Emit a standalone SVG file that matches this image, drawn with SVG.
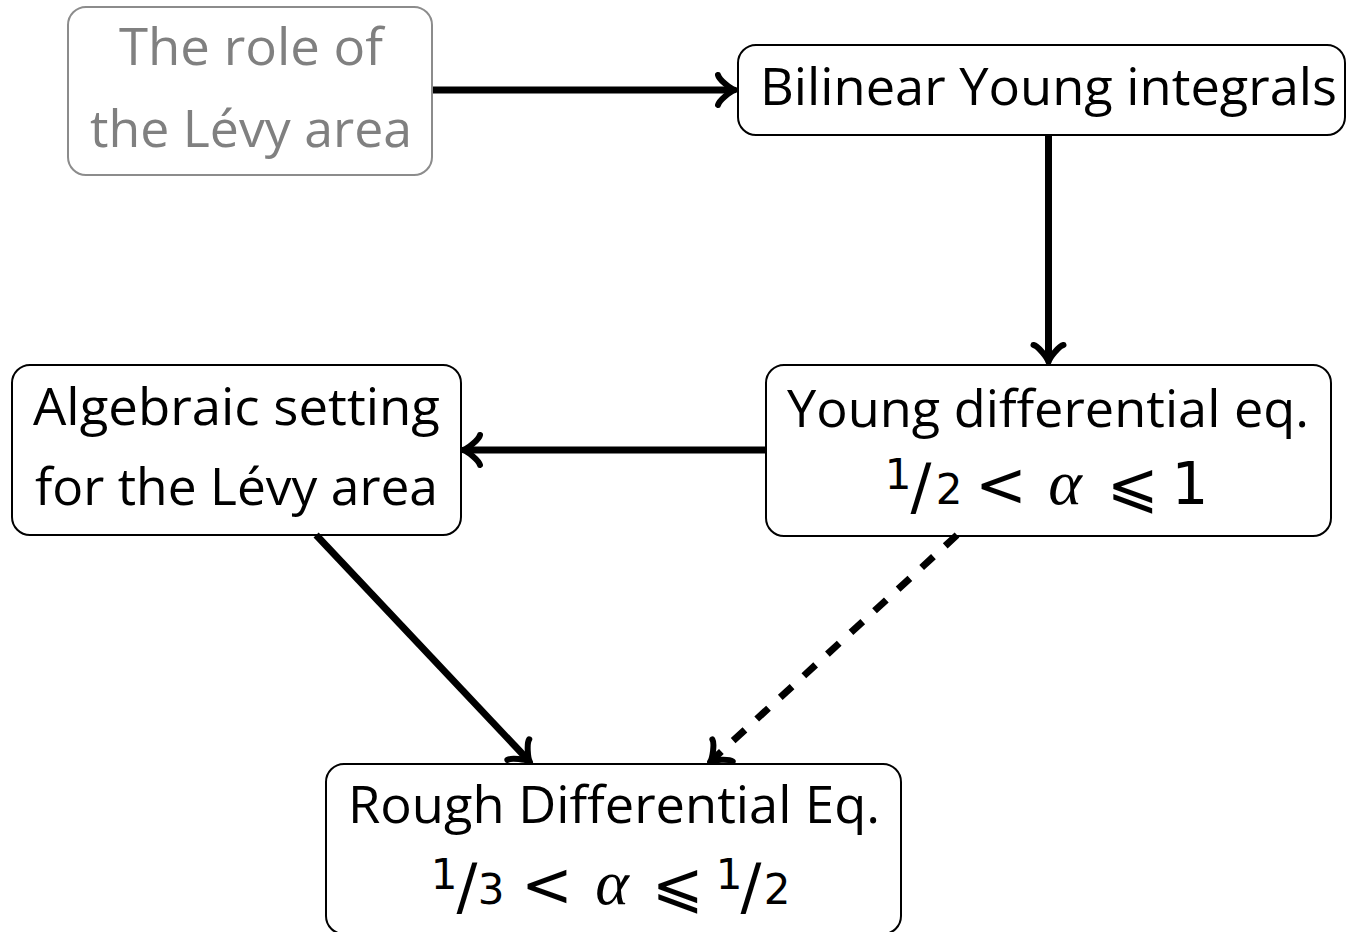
<svg xmlns="http://www.w3.org/2000/svg" width="1348" height="932" viewBox="0 0 1348 932">
<style>
.box{fill:#fff;stroke:#000;stroke-width:2}
.gbox{fill:#fff;stroke:#8c8c8c;stroke-width:2}
.t{font-family:"Open Sans","Noto Sans",sans-serif;font-size:52px;fill:#000;text-anchor:middle}
.g{fill:#808080}
.m{font-family:"DejaVu Sans",sans-serif;font-size:58px;fill:#000;text-anchor:middle}
.ms{font-size:42px}
.sl{font-size:62px}
.mr{font-size:62px}
.ma{font-family:"Liberation Serif","DejaVu Serif",serif;font-style:italic;font-size:64px}
.edge{fill:none;stroke:#000;stroke-width:7}
.dash{stroke-dasharray:16 16}
</style>
<defs>
<marker id="arr" markerUnits="userSpaceOnUse" markerWidth="40" markerHeight="40" viewBox="-20 -20 40 40" refX="0" refY="0" orient="auto" overflow="visible">
<path d="M-15,-15 C-14,-10.5 -2.5,-1 2,0 C-2.5,1 -14,10.5 -15,15" fill="none" stroke="#000" stroke-width="6" stroke-linecap="round" stroke-linejoin="round" stroke-dasharray="none"/>
</marker>
</defs>

<g id="node-role">
<rect class="gbox" x="68" y="7" width="364" height="168" rx="18"/>
<text class="t g" x="251" y="65" textLength="264" lengthAdjust="spacingAndGlyphs">The role of</text>
<text class="t g" x="251" y="147" textLength="322" lengthAdjust="spacingAndGlyphs">the Lévy area</text>
</g>

<g id="node-bilinear">
<rect class="box" x="738" y="45" width="607" height="90" rx="18"/>
<text class="t" x="1048.5" y="105" textLength="577" lengthAdjust="spacingAndGlyphs">Bilinear Young integrals</text>
</g>

<g id="node-young">
<rect class="box" x="766" y="365" width="565" height="171" rx="18"/>
<text class="t" x="1048" y="427" textLength="522" lengthAdjust="spacingAndGlyphs">Young differential eq.</text>
<text class="m ms" x="898" y="489">1</text>
<text class="m sl" x="921" y="508">/</text>
<text class="m ms" x="949" y="504">2</text>
<text class="m mr" x="1001" y="506">&lt;</text>
<text class="m ma" x="1065" y="504">α</text>
<text class="m mr" x="1133" y="506">⩽</text>
<text class="m" x="1190" y="504">1</text>
</g>

<g id="node-algebraic">
<rect class="box" x="12" y="365" width="449" height="170" rx="18"/>
<text class="t" x="236.5" y="425" textLength="407" lengthAdjust="spacingAndGlyphs">Algebraic setting</text>
<text class="t" x="236.5" y="505" textLength="403" lengthAdjust="spacingAndGlyphs">for the Lévy area</text>
</g>

<g id="node-rough">
<rect class="box" x="326" y="764" width="575" height="170" rx="18"/>
<text class="t" x="614" y="823" textLength="532" lengthAdjust="spacingAndGlyphs">Rough Differential Eq.</text>
<text class="m ms" x="444" y="889">1</text>
<text class="m sl" x="467" y="908">/</text>
<text class="m ms" x="491" y="904">3</text>
<text class="m mr" x="547" y="906">&lt;</text>
<text class="m ma" x="612" y="904">α</text>
<text class="m mr" x="678" y="906">⩽</text>
<text class="m ms" x="729" y="889">1</text>
<text class="m sl" x="751" y="908">/</text>
<text class="m ms" x="777" y="904">2</text>
</g>

<g id="connectors">
<path class="edge" d="M433,90 L733,90" marker-end="url(#arr)"/>
<path class="edge" d="M1048.5,136 L1048.5,360" marker-end="url(#arr)"/>
<path class="edge" d="M766,450 L465,450" marker-end="url(#arr)"/>
<path class="edge" d="M316.1,535 L528.6,760.5" marker-end="url(#arr)"/>
<path class="edge dash" d="M957,535 L711.5,760.6" marker-end="url(#arr)"/>
</g>
</svg>
